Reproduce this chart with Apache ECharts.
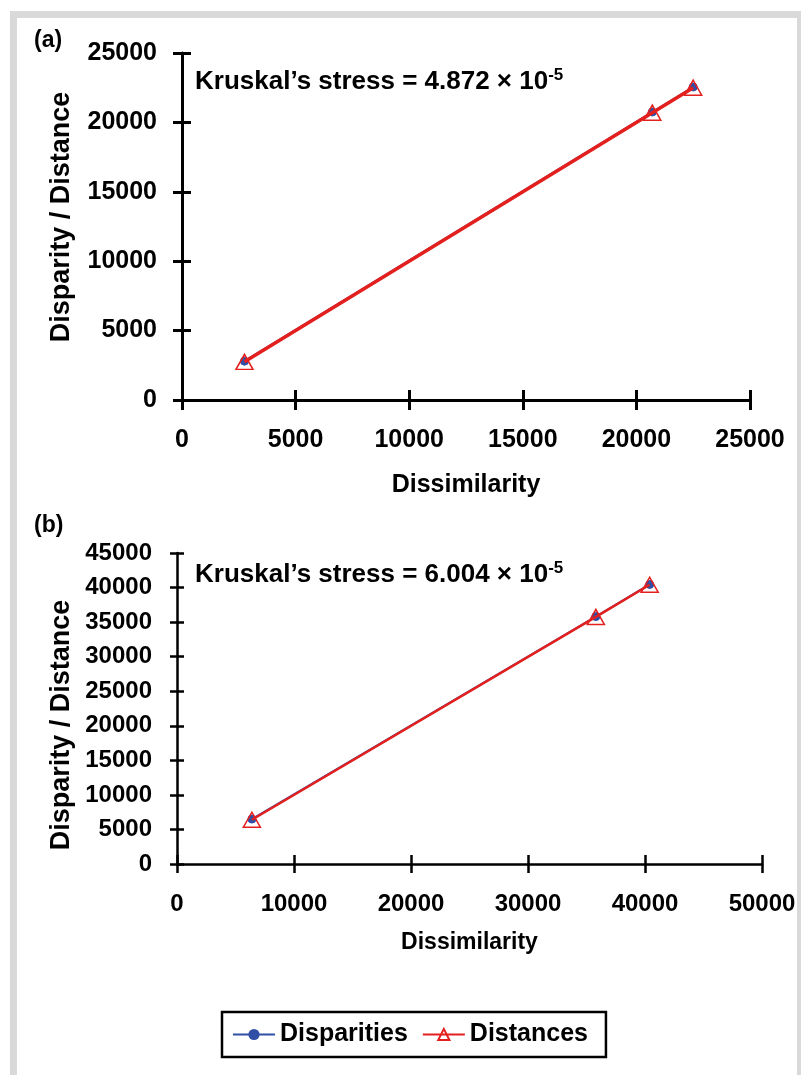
<!DOCTYPE html>
<html>
<head>
<meta charset="utf-8">
<script src="https://cdn.jsdelivr.net/npm/echarts@6/dist/echarts.min.js"></script>
<style>
  html, body { margin: 0; padding: 0; background: #ffffff; width: 801px; height: 1075px; overflow: hidden; }
  #frame { position: absolute; left: 10px; top: 11px; width: 791px; height: 1064px; background: #d9d9d9; }
  #inner { position: absolute; left: 17px; top: 18px; width: 780px; height: 1057px; background: #ffffff; }
  #chart { position: absolute; left: 0; top: 0; width: 801px; height: 1075px; }
</style>
</head>
<body>
<div id="frame"></div>
<div id="inner"></div>
<div id="chart"></div>
<script>
// ---- Data (panel a) ----
const dissimilarityA = [2750, 20700, 22500];
const disparitiesA   = [2800, 20750, 22550];
const distancesA     = [2750, 20700, 22500];
const xTicksA = [0, 5000, 10000, 15000, 20000, 25000];
const yTicksA = [0, 5000, 10000, 15000, 20000, 25000];
const stressA = '4.872';

// ---- Data (panel b) ----
const dissimilarityB = [6400, 35800, 40400];
const disparitiesB   = [6500, 35800, 40450];
const distancesB     = [6400, 35750, 40400];
const xTicksB = [0, 10000, 20000, 30000, 40000, 50000];
const yTicksB = [0, 5000, 10000, 15000, 20000, 25000, 30000, 35000, 40000, 45000];
const stressB = '6.004';

const seriesNames = ['Disparities', 'Distances'];
const panelLabels = ['(a)', '(b)'];
const xTitle = 'Dissimilarity';
const yTitle = 'Disparity / Distance';

const FONT = '"Liberation Sans", Arial, sans-serif';
const BLUE = '#2f4ea6';
const RED = '#e3201e';

function pairs(xs, ys) { return xs.map((x, i) => [x, ys[i]]); }
function fmt(v) { return String(v); }

function axisPair(kind, gridIndex, ticks, o) {
  const min = ticks[0], max = ticks[ticks.length - 1], interval = ticks[1] - ticks[0];
  const main = {
    type: 'value', gridIndex, min, max, interval,
    position: kind === 'x' ? 'bottom' : 'left',
    splitLine: { show: false },
    axisLine: { show: true, onZero: false, lineStyle: { color: '#000', width: o.lineW } },
    axisTick: { show: true, inside: false, length: o.tickLen, lineStyle: { color: '#000', width: o.tickW } },
    axisLabel: { show: true, formatter: fmt, color: '#000', fontFamily: FONT, fontWeight: 'bold', fontSize: o.labelSize, margin: o.labelMargin }
  };
  if (o.name) {
    main.name = o.name;
    main.nameLocation = 'middle';
    main.nameGap = o.nameGap;
    main.nameTextStyle = { color: '#000', fontFamily: FONT, fontWeight: 'bold', fontSize: o.nameSize };
  }
  const dup = {
    type: 'value', gridIndex, min, max, interval,
    position: kind === 'x' ? 'bottom' : 'left',
    splitLine: { show: false },
    axisLine: { show: false, onZero: false },
    axisTick: { show: true, inside: true, length: o.tickLen, lineStyle: { color: '#000', width: o.tickW } },
    axisLabel: { show: false }
  };
  return [main, dup];
}

const xA = axisPair('x', 0, xTicksA, { lineW: 3, tickW: 3, tickLen: 10, labelSize: 25, labelMargin: 28, name: xTitle, nameGap: 73, nameSize: 25 });
const yA = axisPair('y', 0, yTicksA, { lineW: 3, tickW: 3, tickLen: 9, labelSize: 25, labelMargin: 25 });
const xB = axisPair('x', 1, xTicksB, { lineW: 2.5, tickW: 2.5, tickLen: 9, labelSize: 24, labelMargin: 28, name: xTitle, nameGap: 67, nameSize: 23 });
const yB = axisPair('y', 1, yTicksB, { lineW: 2.5, tickW: 2.5, tickLen: 7, labelSize: 24, labelMargin: 25 });

function disparitySeries(xi, yi, data) {
  return {
    name: seriesNames[0], type: 'line', xAxisIndex: xi, yAxisIndex: yi, data,
    symbol: 'circle', symbolSize: 8, z: 2,
    lineStyle: { color: BLUE, width: 2 },
    itemStyle: { color: BLUE, borderColor: BLUE },
    animation: false
  };
}
function distanceSeries(xi, yi, data, lw) {
  return {
    name: seriesNames[1], type: 'line', xAxisIndex: xi, yAxisIndex: yi, data,
    symbol: 'triangle', symbolSize: [17, 15], z: 3,
    lineStyle: { color: RED, width: lw },
    itemStyle: { color: 'rgba(255,255,255,0)', borderColor: RED, borderWidth: 1.5 },
    animation: false
  };
}

const stressText = (s) => 'Kruskal’s stress = ' + s + ' × 10{sup|-5}';
const richSup = { sup: { fontSize: 17, fontWeight: 'bold', fontFamily: FONT, fill: '#000', verticalAlign: 'top', lineHeight: 30 } };

function yTitleGraphic(cx, cy) {
  return {
    type: 'text', x: cx, y: cy, rotation: Math.PI / 2,
    style: { text: yTitle, fontFamily: FONT, fontWeight: 'bold', fontSize: 27, fill: '#000', align: 'center', verticalAlign: 'middle' }
  };
}

const option = {
  backgroundColor: 'transparent',
  animation: false,
  grid: [
    { left: 182, top: 53, width: 568, height: 347 },
    { left: 177, top: 553, width: 585, height: 311 }
  ],
  xAxis: [xA[0], xA[1], xB[0], xB[1]],
  yAxis: [yA[0], yA[1], yB[0], yB[1]],
  legend: {
    data: seriesNames,
    left: 222, top: 1012,
    orient: 'horizontal',
    borderColor: '#000', borderWidth: 2.5,
    padding: [10, 18, 10, 10],
    itemWidth: 42, itemHeight: 14, itemGap: 14,
    textStyle: { color: '#000', fontFamily: FONT, fontWeight: 'bold', fontSize: 25 }
  },
  series: [
    disparitySeries(0, 0, pairs(dissimilarityA, disparitiesA)),
    distanceSeries(0, 0, pairs(dissimilarityA, distancesA), 3.5),
    disparitySeries(2, 2, pairs(dissimilarityB, disparitiesB)),
    distanceSeries(2, 2, pairs(dissimilarityB, distancesB), 2.5)
  ],
  graphic: [
    { type: 'text', left: 34, top: 29, style: { text: panelLabels[0], fontFamily: FONT, fontWeight: 'bold', fontSize: 23, fill: '#000' } },
    { type: 'text', left: 34, top: 514, style: { text: panelLabels[1], fontFamily: FONT, fontWeight: 'bold', fontSize: 23, fill: '#000' } },
    { type: 'text', left: 195, top: 67, style: { text: stressText(stressA), rich: richSup, fontFamily: FONT, fontWeight: 'bold', fontSize: 26, lineHeight: 30, fill: '#000' } },
    { type: 'text', left: 195, top: 560, style: { text: stressText(stressB), rich: richSup, fontFamily: FONT, fontWeight: 'bold', fontSize: 26, lineHeight: 30, fill: '#000' } },
    yTitleGraphic(62, 217),
    yTitleGraphic(62, 725)
  ]
};

const chart = echarts.init(document.getElementById('chart'), null, { renderer: 'canvas' });
chart.setOption(option);
</script>
</body>
</html>
